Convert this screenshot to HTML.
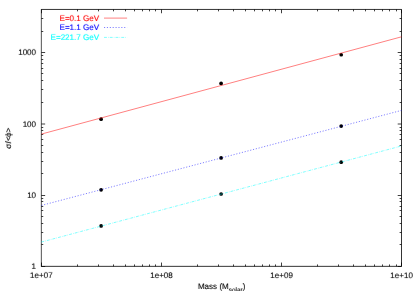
<!DOCTYPE html>
<html><head><meta charset="utf-8"><title>plot</title>
<style>
html,body{margin:0;padding:0;background:#fff;}
body{width:415px;height:291px;overflow:hidden;}
svg{display:block;}
text{text-rendering:geometricPrecision;font-kerning:none;font-family:"Liberation Sans",sans-serif;font-size:8.07px;stroke-width:0.1;}
</style></head><body>
<svg width="415" height="291" viewBox="0 0 415 291">
<defs><filter id="nf" x="0" y="0" width="415" height="291" filterUnits="userSpaceOnUse"><feGaussianBlur stdDeviation="0.25"/></filter></defs>
<rect width="415" height="291" fill="#fff"/>
<g fill="none" stroke="#000" stroke-width="0.8"><path d="M41.35 9.45H401.5V266.35H41.35"/><path d="M41.35 9.05V266.75" stroke-width="0.68"/><path d="M41.50 266.35V262.55M41.50 9.45V13.25M77.50 266.35V264.45M77.50 9.45V11.35M98.50 266.35V264.45M98.50 9.45V11.35M113.50 266.35V264.45M113.50 9.45V11.35M125.50 266.35V264.45M125.50 9.45V11.35M134.50 266.35V264.45M134.50 9.45V11.35M142.50 266.35V264.45M142.50 9.45V11.35M149.50 266.35V264.45M149.50 9.45V11.35M155.50 266.35V264.45M155.50 9.45V11.35M161.50 266.35V262.55M161.50 9.45V13.25M197.50 266.35V264.45M197.50 9.45V11.35M218.50 266.35V264.45M218.50 9.45V11.35M233.50 266.35V264.45M233.50 9.45V11.35M245.50 266.35V264.45M245.50 9.45V11.35M254.50 266.35V264.45M254.50 9.45V11.35M262.50 266.35V264.45M262.50 9.45V11.35M269.50 266.35V264.45M269.50 9.45V11.35M275.50 266.35V264.45M275.50 9.45V11.35M281.50 266.35V262.55M281.50 9.45V13.25M317.50 266.35V264.45M317.50 9.45V11.35M338.50 266.35V264.45M338.50 9.45V11.35M353.50 266.35V264.45M353.50 9.45V11.35M365.50 266.35V264.45M365.50 9.45V11.35M374.50 266.35V264.45M374.50 9.45V11.35M382.50 266.35V264.45M382.50 9.45V11.35M389.50 266.35V264.45M389.50 9.45V11.35M396.50 266.35V264.45M396.50 9.45V11.35M401.50 266.35V262.55M401.50 9.45V13.25M41.35 266.50H45.15M401.5 266.50H397.70M41.35 244.50H43.25M401.5 244.50H399.60M41.35 232.50H43.25M401.5 232.50H399.60M41.35 223.50H43.25M401.5 223.50H399.60M41.35 216.50H43.25M401.5 216.50H399.60M41.35 210.50H43.25M401.5 210.50H399.60M41.35 206.50H43.25M401.5 206.50H399.60M41.35 201.50H43.25M401.5 201.50H399.60M41.35 198.50H43.25M401.5 198.50H399.60M41.35 195.50H45.15M401.5 195.50H397.70M41.35 173.50H43.25M401.5 173.50H399.60M41.35 161.50H43.25M401.5 161.50H399.60M41.35 152.50H43.25M401.5 152.50H399.60M41.35 145.50H43.25M401.5 145.50H399.60M41.35 139.50H43.25M401.5 139.50H399.60M41.35 134.50H43.25M401.5 134.50H399.60M41.35 130.50H43.25M401.5 130.50H399.60M41.35 127.50H43.25M401.5 127.50H399.60M41.35 124.00H45.15M401.5 124.00H397.70M41.35 102.50H43.25M401.5 102.50H399.60M41.35 89.50H43.25M401.5 89.50H399.60M41.35 80.50H43.25M401.5 80.50H399.60M41.35 73.50H43.25M401.5 73.50H399.60M41.35 68.50H43.25M401.5 68.50H399.60M41.35 63.50H43.25M401.5 63.50H399.60M41.35 59.50H43.25M401.5 59.50H399.60M41.35 55.50H43.25M401.5 55.50H399.60M41.35 52.50H45.15M401.5 52.50H397.70M41.35 31.50H43.25M401.5 31.50H399.60M41.35 18.50H43.25M401.5 18.50H399.60" stroke-width="0.75"/></g>
<g fill="#000"><circle cx="101.1" cy="119.15" r="1.85"/><circle cx="221.1" cy="83.4" r="1.85"/><circle cx="341.2" cy="54.75" r="1.85"/><circle cx="101.1" cy="189.85" r="1.85"/><circle cx="221.1" cy="157.9" r="1.85"/><circle cx="341.2" cy="126.1" r="1.85"/><circle cx="101.1" cy="225.9" r="1.85"/><circle cx="221.1" cy="194.0" r="1.85"/><circle cx="341.2" cy="162.2" r="1.85"/></g>
<g fill="none" stroke-width="0.5">
<path d="M41.35 134.1L401.5 36.8" stroke="#f00"/>
<path d="M41.35 205.45L401.5 110.4" stroke="#00f" stroke-dasharray="1.15 1.73"/>
<path d="M41.35 242.05L401.5 145.95" stroke="#0ff" stroke-dasharray="2.88 1.15 0.58 1.15"/>
<path d="M104 18.1H127.1" stroke="#f00" stroke-width="0.5"/>
<path d="M104 27.5H127.1" stroke="#00f" stroke-dasharray="1.15 1.73"/>
<path d="M104 37.4H127.1" stroke="#0ff" stroke-dasharray="2.88 1.15 0.58 1.15"/>
</g>
<g filter="url(#nf)" transform="rotate(0.03 207 145)">
<text x="99.20" y="20.70" text-anchor="end" fill="#f00" stroke="#f00" >E=0.1 GeV</text>
<text x="99.20" y="30.30" text-anchor="end" fill="#00f" stroke="#00f" >E=1.1 GeV</text>
<text x="99.20" y="40.20" text-anchor="end" fill="#0ff" stroke="#0ff" >E=221.7 GeV</text>
<text x="36.10" y="55.10" text-anchor="end" fill="#000" stroke="#000" >1000</text>
<text x="36.10" y="126.60" text-anchor="end" fill="#000" stroke="#000" >100</text>
<text x="36.10" y="197.80" text-anchor="end" fill="#000" stroke="#000" >10</text>
<text x="36.10" y="269.00" text-anchor="end" fill="#000" stroke="#000" >1</text>
<text x="41.45" y="277.70" text-anchor="middle" fill="#000" stroke="#000" >1e+07</text>
<text x="161.50" y="277.70" text-anchor="middle" fill="#000" stroke="#000" >1e+08</text>
<text x="281.55" y="277.70" text-anchor="middle" fill="#000" stroke="#000" >1e+09</text>
<text x="401.60" y="277.70" text-anchor="middle" fill="#000" stroke="#000" >1e+10</text>
<text x="197.9" y="288.7" fill="#000" stroke="#000">Mass (M<tspan dy="3.5" font-size="6.45">solar</tspan><tspan dy="-3.5">)</tspan></text>
<g transform="translate(11.4,148.8) rotate(-90)" stroke="#000"><text x="0" y="0">σ</text><text x="5.2" y="0">/</text><text x="7.9" y="0">&lt;</text><text x="11.9" y="0">ϕ</text><text x="16.3" y="0">&gt;</text></g>
</g>
</svg></body></html>
